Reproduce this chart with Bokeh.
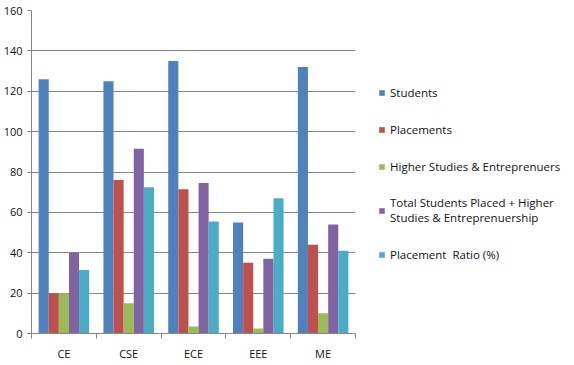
from bokeh.plotting import figure
from bokeh.models import FixedTicker, Legend, LegendItem, Range1d, ColumnDataSource
from bokeh.embed import file_html
from bokeh.resources import INLINE

categories = ["CE", "CSE", "ECE", "EEE", "ME"]
students = [126, 125, 135, 55, 132]
placements = [20, 76, 71.5, 35, 44]
higher_studies = [20, 15, 3.5, 2.5, 10]
total_placed = [40, 91.5, 74.5, 37, 54]
placement_ratio = [31.5, 72.5, 55.5, 67, 41]

series_names = [
    "Students",
    "Placements",
    "Higher Studies & Entreprenuers",
    "Total Students Placed + Higher\nStudies & Entreprenuership",
    "Placement  Ratio (%)",
]
series_values = [students, placements, higher_studies, total_placed, placement_ratio]
colors = ["#4F81BD", "#C0504D", "#9BBB59", "#8064A2", "#4BACC6"]
y_ticks = [0, 20, 40, 60, 80, 100, 120, 140, 160]

FONT = "Open Sans"
GRID = "#868686"

p = figure(frame_width=324, frame_height=323, output_backend="svg", toolbar_location=None,
           x_range=Range1d(0, len(categories)), y_range=Range1d(0, 160),
           min_border_left=0, min_border_top=10, min_border_right=0, min_border_bottom=24)
p.outline_line_color = None
p.background_fill_color = "white"
p.border_fill_color = "white"

group_w = 0.78
bar_w = group_w / len(series_names)
start = 0.11

renderers = []
for j, (vals, col) in enumerate(zip(series_values, colors)):
    xs = [i + start + bar_w * (j + 0.5) for i in range(len(categories))]
    src = ColumnDataSource(dict(x=xs, top=vals, cat=categories))
    r = p.vbar(x="x", top="top", width=bar_w, bottom=0, source=src,
               fill_color=col, line_color=None)
    renderers.append(r)

# x axis
p.xaxis.ticker = FixedTicker(ticks=[i + 0.5 for i in range(len(categories))],
                             minor_ticks=list(range(len(categories) + 1)))
p.xaxis.major_label_overrides = {i + 0.5: c for i, c in enumerate(categories)}
p.xaxis.major_tick_line_color = None
p.xaxis.minor_tick_line_color = GRID
p.xaxis.minor_tick_out = 5
p.xaxis.minor_tick_in = 0
p.xaxis.axis_line_color = GRID
p.xaxis.major_label_standoff = 6
p.xaxis.major_label_text_font = FONT
p.xaxis.major_label_text_font_size = "11px"
p.xaxis.major_label_text_color = "#111111"
p.xgrid.visible = False

# y axis
p.yaxis.ticker = FixedTicker(ticks=y_ticks, minor_ticks=[])
p.yaxis.axis_line_color = GRID
p.yaxis.major_tick_line_color = GRID
p.yaxis.major_tick_out = 4
p.yaxis.major_tick_in = 0
p.yaxis.minor_tick_line_color = None
p.yaxis.major_label_standoff = 5
p.yaxis.major_label_text_font = FONT
p.yaxis.major_label_text_font_size = "11px"
p.yaxis.major_label_text_color = "#111111"
p.ygrid.grid_line_color = GRID
p.ygrid.grid_line_width = 1

legend = Legend(items=[LegendItem(label=n, renderers=[r]) for n, r in zip(series_names, renderers)],
                location=(23, 71), padding=0, margin=0, spacing=21,
                border_line_color=None, background_fill_alpha=0,
                glyph_width=7, glyph_height=7, label_standoff=5,
                label_text_font=FONT, label_text_font_size="11.5px",
                label_text_color="#111111", label_height=16, label_text_line_height=1.4)
p.add_layout(legend, "right")

open("out.html", "w").write(file_html(p, INLINE))
